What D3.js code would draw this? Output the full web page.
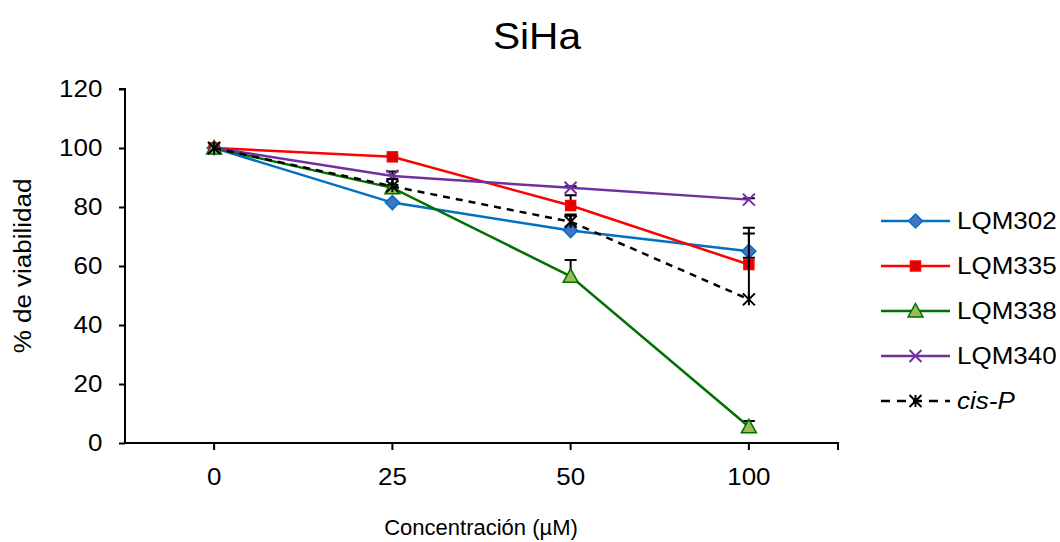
<!DOCTYPE html>
<html><head><meta charset="utf-8">
<script src="https://cdn.jsdelivr.net/npm/d3@7"></script>
<style>body{margin:0;background:#fff}svg{display:block;font-family:"Liberation Sans",Arial,sans-serif}</style>
</head><body>
<svg id="c" width="1060" height="542"></svg>
<script>
const categories = ["0", "25", "50", "100"];
const yTicks = [0, 20, 40, 60, 80, 100, 120];
const seriesNames = ["LQM302", "LQM335", "LQM338", "LQM340", "cis-P"];
const lqm302 = [100, 81.5, 72, 65];
const lqm302Err = [0, 0, 5, 6];
const lqm335 = [100, 97, 80.5, 60.5];
const lqm335Err = [0, 0.5, 3.5, 2.3];
const lqm338 = [100, 86.5, 56.5, 5.5];
const lqm338Err = [0, 1, 5.5, 2];
const lqm340 = [100, 90.5, 86.5, 82.5];
const lqm340Err = [0, 1.5, 0.5, 0.5];
const cisP = [100, 87, 75, 48.7];
const cisPErr = [0, 2.5, 2.5, 24.3];

const styles = [
  {color:"#0070C0", marker:"diamond", fill:"#4472C4", dash:null},
  {color:"#FF0000", marker:"square", fill:"#E00000", dash:null},
  {color:"#007000", marker:"triangle", fill:"#9BBB59", dash:null},
  {color:"#7030A0", marker:"x", fill:"none", dash:null},
  {color:"#000000", marker:"star", fill:"none", dash:"7,6"}
];
const values = [lqm302, lqm335, lqm338, lqm340, cisP];
const errs = [lqm302Err, lqm335Err, lqm338Err, lqm340Err, cisPErr];

const SX = 1.13;
const svg = d3.select("#c");
const L = 125, R = 838, T = 89, B = 443;
const x = d3.scaleBand().domain(categories).range([L, R]);
const xc = c => x(c) + x.bandwidth()/2;
const y = d3.scaleLinear().domain([0, 120]).range([B, T]);

function addText(px, py, str, size, anchor, sx, extra) {
  const t = svg.append("text").attr("transform", `translate(${px},${py})${extra||""} scale(${sx},1)`)
    .attr("text-anchor", anchor).attr("font-size", size).attr("fill", "#000").text(str);
  return t;
}

// title
addText(537, 49, "SiHa", 36, "middle", SX);

// y axis
const ya = svg.append("g").attr("transform", `translate(${L},0)`)
  .call(d3.axisLeft(y).tickValues(yTicks).tickSize(6).tickPadding(14));
ya.select(".domain").attr("stroke","#000").attr("stroke-width",2).attr("d", `M-6,${T}H0V${B}`);
ya.selectAll(".tick line").attr("stroke","#000").attr("stroke-width",2);
ya.selectAll(".tick text").attr("font-size",23).attr("fill","#000")
  .attr("font-family","Liberation Sans, Arial, sans-serif").attr("transform", `scale(${SX},1)`);

// x axis
const xa = svg.append("g").attr("transform", `translate(0,${B})`)
  .call(d3.axisBottom(x).tickSize(7).tickPadding(19));
xa.select(".domain").attr("stroke","#000").attr("stroke-width",2).attr("d", `M${L},0H${R}V7`);
xa.selectAll(".tick line").attr("stroke","#000").attr("stroke-width",2);
xa.selectAll(".tick text").attr("font-size",23).attr("fill","#000")
  .attr("font-family","Liberation Sans, Arial, sans-serif").attr("transform", `scale(${SX},1)`);

// axis titles
addText(481, 535, "Concentración (µM)", 22, "middle", 1.0);
addText(31, (T+B)/2, "% de viabilidad", 23, "middle", SX, " rotate(-90)");

function marker(g, type, cx, cy, st) {
  if (type === "diamond") {
    const r = 7;
    g.append("path").attr("d", `M${cx},${cy-r}L${cx+r},${cy}L${cx},${cy+r}L${cx-r},${cy}Z`)
      .attr("fill", st.fill).attr("stroke", st.color).attr("stroke-width",1.5);
  } else if (type === "square") {
    const r = 5;
    g.append("rect").attr("x",cx-r).attr("y",cy-r).attr("width",2*r).attr("height",2*r)
      .attr("fill", st.fill).attr("stroke", "#FF0000").attr("stroke-width",1.5);
  } else if (type === "triangle") {
    const r = 7.5;
    g.append("path").attr("d", `M${cx},${cy-r}L${cx+r},${cy+r*0.8}L${cx-r},${cy+r*0.8}Z`)
      .attr("fill", st.fill).attr("stroke", st.color).attr("stroke-width",1.5);
  } else if (type === "x") {
    const r = 6;
    g.append("path").attr("d", `M${cx-r},${cy-r}L${cx+r},${cy+r}M${cx-r},${cy+r}L${cx+r},${cy-r}`)
      .attr("stroke", st.color).attr("stroke-width",2).attr("fill","none");
  } else if (type === "star") {
    const r = 6;
    g.append("path").attr("d", `M${cx-r},${cy-r}L${cx+r},${cy+r}M${cx-r},${cy+r}L${cx+r},${cy-r}M${cx},${cy-r}V${cy+r}`)
      .attr("stroke", st.color).attr("stroke-width",2).attr("fill","none");
  }
}

const line = d3.line().x((d,i) => xc(categories[i])).y(d => y(d));
values.forEach((vals, si) => {
  const st = styles[si];
  const g = svg.append("g");
  vals.forEach((v, i) => {
    const e = errs[si][i];
    if (e <= 0) return;
    const cx = xc(categories[i]);
    g.append("path").attr("d", `M${cx},${y(v)}V${y(v+e)}M${cx-6},${y(v+e)}H${cx+6}`)
      .attr("stroke","#000").attr("stroke-width",2).attr("fill","none");
  });
  g.append("path").attr("d", line(vals)).attr("fill","none").attr("stroke", st.color)
    .attr("stroke-width", 2.5).attr("stroke-dasharray", st.dash);
  vals.forEach((v, i) => marker(g, st.marker, xc(categories[i]), y(v), st));
});

// legend
const legY = [221, 266, 311, 356, 401];
seriesNames.forEach((n, i) => {
  const st = styles[i];
  const g = svg.append("g");
  g.append("line").attr("x1", 881).attr("x2", 950).attr("y1", legY[i]).attr("y2", legY[i])
    .attr("stroke", st.color).attr("stroke-width", 2.5).attr("stroke-dasharray", st.dash ? "9,7" : null);
  marker(g, st.marker, 915.5, legY[i], st);
  addText(957, legY[i] + 8, n, 23, "start", SX).attr("font-style", i === 4 ? "italic" : "normal");
});
</script>
</body></html>
